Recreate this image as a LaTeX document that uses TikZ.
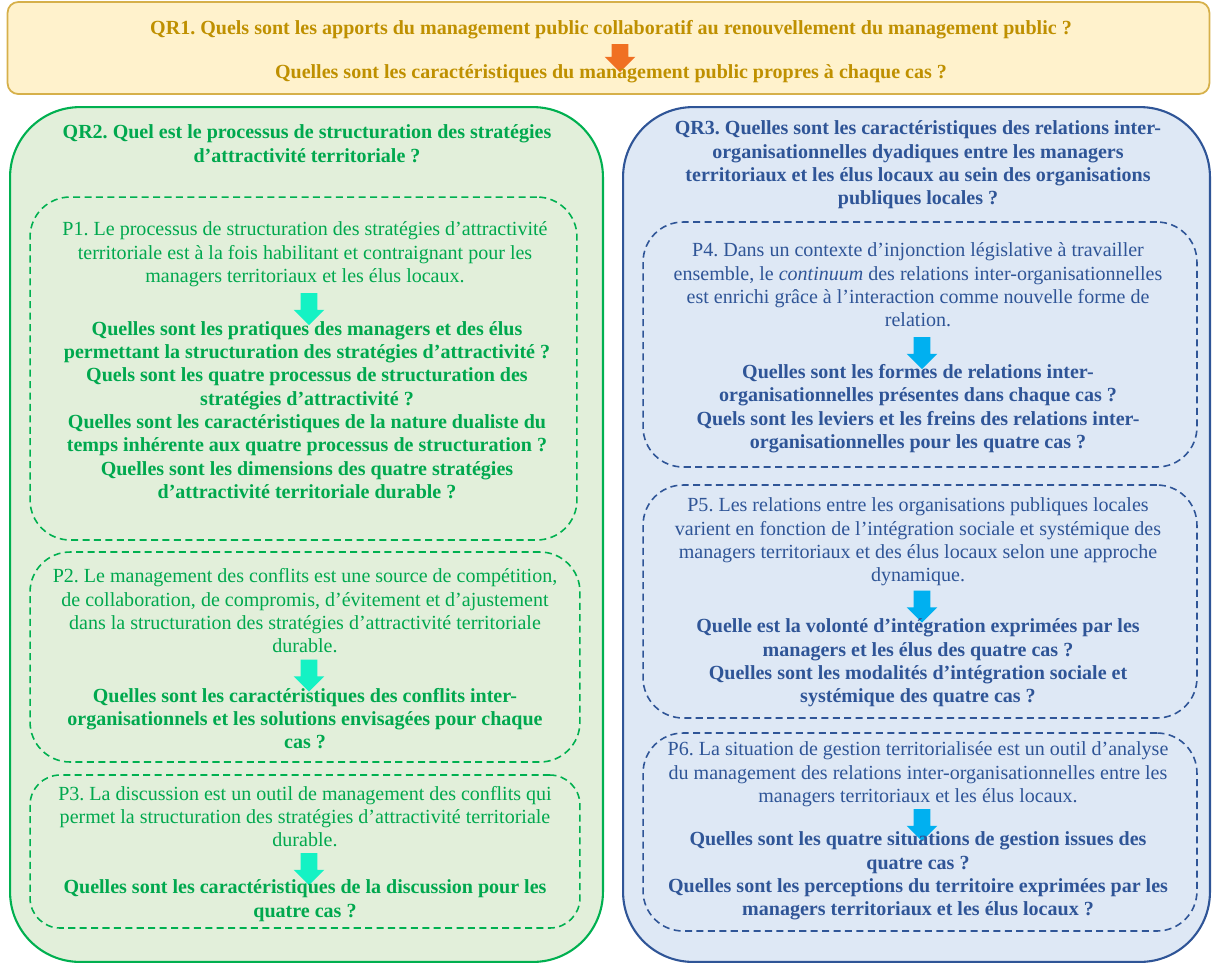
\documentclass[tikz,border=0pt]{standalone}
\usepackage{fontspec}
\setmainfont{Liberation Serif}
\usepackage{xcolor}
\usetikzlibrary{shapes.arrows}
\definecolor{goldfill}{HTML}{FFF2CC}
\definecolor{goldline}{HTML}{D6B04A}
\definecolor{goldtxt}{HTML}{BF9000}
\definecolor{orangearr}{HTML}{F07022}
\definecolor{greenfill}{HTML}{E2EFDA}
\definecolor{greenline}{HTML}{00B050}
\definecolor{greentxt}{HTML}{00A84E}
\definecolor{cyanarr}{HTML}{14F2C4}
\definecolor{bluefill}{HTML}{DEE8F5}
\definecolor{blueline}{HTML}{2F5597}
\definecolor{bluetxt}{HTML}{2F5597}
\definecolor{bluearr}{HTML}{00B0F0}
\frenchspacing

\begin{document}
\begin{tikzpicture}[x=0.02cm, y=-0.02cm,
  banner/.style={rectangle, draw=goldline, fill=goldfill, line width=1pt, rounded corners=6pt,
                 minimum width=24.04cm, minimum height=1.84cm},
  bigbox/.style={rectangle, line width=1.2pt, rounded corners=1.4cm, minimum width=11.8cm, minimum height=17.1cm},
  propbox/.style={rectangle, line width=0.9pt, dash pattern=on 4pt off 2.5pt, rounded corners=0.8cm, minimum width=11cm},
  txt/.style={align=center, font=\fontsize{11.4}{13.3}\selectfont},
  qtxt/.style={align=center, font=\bfseries\fontsize{11.4}{13.3}\selectfont},
  downarrow/.style={single arrow, rotate=-90, draw=none, inner sep=0.16cm, minimum height=0.64cm,
                    single arrow head extend=0.14cm}
]
\useasboundingbox (0,0) rectangle (1212,964);
\node[banner] (qr1box) at (608.5,48) {};
\node[qtxt, text=goldtxt] (qr1) at (611,30) {QR1. Quels sont les apports du management public collaboratif au renouvellement du management public ?};
\node[downarrow, fill=orangearr, minimum height=0.56cm] (a0) at (620,54) {};
\node[qtxt, text=goldtxt] (qr1b) at (611,74) {Quelles sont les caractéristiques du management public propres à chaque cas ?};

\node[bigbox, draw=greenline, fill=greenfill, minimum width=11.86cm] (qr2box) at (306.5,534.5) {};
\node[bigbox, draw=blueline, fill=bluefill, minimum width=11.74cm] (qr3box) at (916.5,534.5) {};

\node[propbox, draw=greenline, minimum width=10.94cm, minimum height=6.86cm] (p1box) at (303.5,368.5) {};
\node[propbox, draw=greenline, minimum height=4.2cm] (p2box) at (305,657) {};
\node[propbox, draw=greenline, minimum height=3.06cm, rounded corners=0.6cm] (p3box) at (305,851.5) {};
\node[propbox, draw=blueline, minimum width=11.08cm, minimum height=4.9cm] (p4box) at (920,344.5) {};
\node[propbox, draw=blueline, minimum width=11.08cm, minimum height=4.66cm] (p5box) at (920,601.5) {};
\node[propbox, draw=blueline, minimum width=11.08cm, minimum height=3.96cm] (p6box) at (920,832) {};

\node[qtxt, text=greentxt] (qr2) at (307,143.5) {QR2. Quel est le processus de structuration des stratégies\\ d’attractivité territoriale ?};
\node[txt, text=greentxt] (p1) at (305,254.5) {P1. Le processus de structuration des stratégies d’attractivité\\ territoriale est à la fois habilitant et contraignant pour les\\ managers territoriaux et les élus locaux.};
\node[downarrow, fill=cyanarr] (a1) at (309,305) {};
\node[qtxt, text=greentxt] (q1) at (307,410) {Quelles sont les pratiques des managers et des élus\\ permettant la structuration des stratégies d’attractivité ?\\ Quels sont les quatre processus de structuration des\\ stratégies d’attractivité ?\\ Quelles sont les caractéristiques de la nature dualiste du\\ temps inhérente aux quatre processus de structuration ?\\ Quelles sont les dimensions des quatre stratégies\\ d’attractivité territoriale durable ?};
\node[txt, text=greentxt] (p2) at (305,611) {P2. Le management des conflits est une source de compétition,\\ de collaboration, de compromis, d’évitement et d’ajustement\\ dans la structuration des stratégies d’attractivité territoriale\\ durable.};
\node[downarrow, fill=cyanarr] (a2) at (309,671.5) {};
\node[qtxt, text=greentxt] (q2) at (305,718.7) {Quelles sont les caractéristiques des conflits inter-\\ organisationnels et les solutions envisagées pour chaque\\ cas ?};
\node[txt, text=greentxt] (p3) at (305,816.7) {P3. La discussion est un outil de management des conflits qui\\ permet la structuration des stratégies d’attractivité territoriale\\ durable.};
\node[downarrow, fill=cyanarr] (a3) at (309,865) {};
\node[qtxt, text=greentxt] (q3) at (305,900.5) {Quelles sont les caractéristiques de la discussion pour les\\ quatre cas ?};

\node[qtxt, text=bluetxt] (qr3) at (918,165) {QR3. Quelles sont les caractéristiques des relations inter-\\ organisationnelles dyadiques entre les managers\\ territoriaux et les élus locaux au sein des organisations\\ publiques locales ?};
\node[txt, text=bluetxt] (p4) at (918,285) {P4. Dans un contexte d’injonction législative à travailler\\ ensemble, le \textit{continuum} des relations inter-organisationnelles\\ est enrichi grâce à l’interaction comme nouvelle forme de\\ relation.};
\node[downarrow, fill=bluearr] (a4) at (922,349) {};
\node[qtxt, text=bluetxt] (q4) at (918,408.5) {Quelles sont les formes de relations inter-\\ organisationnelles présentes dans chaque cas ?\\ Quels sont les leviers et les freins des relations inter-\\ organisationnelles pour les quatre cas ?};
\node[txt, text=bluetxt] (p5) at (918,542) {P5. Les relations entre les organisations publiques locales\\ varient en fonction de l’intégration sociale et systémique des\\ managers territoriaux et des élus locaux selon une approche\\ dynamique.};
\node[downarrow, fill=bluearr] (a5) at (922,602.5) {};
\node[qtxt, text=bluetxt] (q5) at (918,663) {Quelle est la volonté d’intégration exprimées par les\\ managers et les élus des quatre cas ?\\ Quelles sont les modalités d’intégration sociale et\\ systémique des quatre cas ?};
\node[txt, text=bluetxt] (p6) at (918,774.3) {P6. La situation de gestion territorialisée est un outil d’analyse\\ du management des relations inter-organisationnelles entre les\\ managers territoriaux et les élus locaux.};
\node[downarrow, fill=bluearr] (a6) at (922,821) {};
\node[qtxt, text=bluetxt] (q6) at (918,876) {Quelles sont les quatre situations de gestion issues des\\ quatre cas ?\\ Quelles sont les perceptions du territoire exprimées par les\\ managers territoriaux et les élus locaux ?};
\end{tikzpicture}
\end{document}
